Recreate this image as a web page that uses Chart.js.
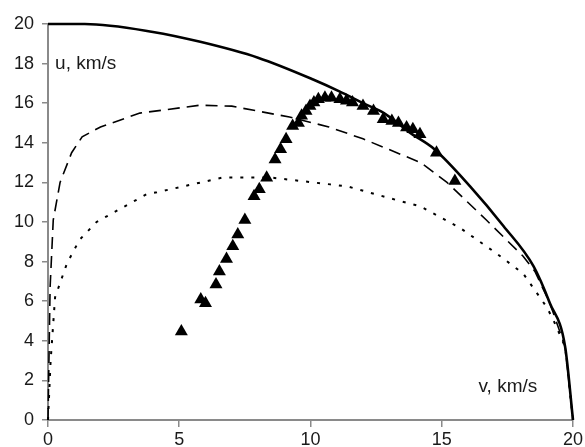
<!DOCTYPE html>
<html>
<head>
<meta charset="utf-8">
<script src="https://cdn.jsdelivr.net/npm/chart.js@4/dist/chart.umd.min.js"></script>
<style>
  html, body { margin: 0; padding: 0; background: #fff; }
  #wrap { width: 585px; height: 447px; position: relative; }
</style>
</head>
<body>
<div id="wrap"><canvas id="c"></canvas></div>
<script>
// u(v) curves, v and u in km/s
const solidV = [0, 1.4, 4, 5.8, 8, 10.1, 11.1, 12, 12.8, 13.8, 14.7, 16.08, 17.35, 18.5, 19.12, 19.7, 20];
const solidU = [20, 20, 19.6, 19.1, 18.3, 17.2, 16.6, 16.0, 15.5, 14.5, 13.7, 11.8, 9.8, 7.76, 5.9, 3.7, 0];

const dashV = [0, 0.08, 0.2, 0.46, 0.9, 1.3, 2, 3.5, 5.8, 7, 9.2, 10.7, 12, 14.2, 15.2, 16.7, 18.1, 18.55, 19.12, 19.7, 20];
const dashU = [0, 6.7, 10.1, 12, 13.5, 14.3, 14.8, 15.5, 15.9, 15.85, 15.3, 14.8, 14.2, 13.0, 12.0, 10.1, 8.27, 7.5, 5.9, 3.7, 0];

const dotV = [0, 0.1, 0.27, 0.72, 1.2, 1.85, 3.75, 4.15, 6.67, 8.45, 10.75, 11.4, 13.3, 14.17, 15.7, 17.1, 18.1, 19.0, 19.25, 19.7, 20];
const dotU = [0, 3, 6.2, 7.9, 9.1, 10.0, 11.4, 11.5, 12.25, 12.25, 11.9, 11.8, 11.1, 10.8, 9.7, 8.4, 7.4, 5.7, 5.06, 3.7, 0];

// measured points (triangles)
const measV = [5.08, 5.82, 6.0, 6.4, 6.53, 6.8, 7.04, 7.23, 7.5, 7.85, 8.05, 8.33, 8.65, 8.86, 9.07, 9.32, 9.54, 9.66, 9.83, 9.98,
  10.13, 10.3, 10.55, 10.8, 11.12, 11.37, 11.6, 12.0, 12.4, 12.77, 13.1, 13.35, 13.66, 13.9, 14.17, 14.8, 15.5];
const measU = [4.47, 6.08, 5.9, 6.84, 7.5, 8.13, 8.77, 9.37, 10.1, 11.3, 11.65, 12.24, 13.16, 13.67, 14.18, 14.85, 15.0, 15.36, 15.6, 15.86,
  16.03, 16.2, 16.28, 16.28, 16.2, 16.12, 16.03, 15.86, 15.6, 15.19, 15.1, 15.0, 14.77, 14.68, 14.43, 13.5, 12.07];

const xTicks = [0, 5, 10, 15, 20];
const yTicks = [0, 2, 4, 6, 8, 10, 12, 14, 16, 18, 20];

const AXIS = "#8a8a8a";
const TEXT = "#1a1a1a";
const FONT = "'Liberation Sans', Arial, sans-serif";

function pts(xs, ys) {
  return xs.map((x, i) => ({ x: x, y: ys[i] }));
}

// axis captions drawn inside the plot, anchored to data coordinates
const captions = {
  id: "captions",
  afterDraw(chart) {
    const { ctx, scales } = chart;
    ctx.save();
    ctx.fillStyle = TEXT;
    ctx.font = "19px " + FONT;
    ctx.textBaseline = "middle";
    ctx.textAlign = "left";
    ctx.fillText("u, km/s", scales.x.getPixelForValue(0.27), scales.y.getPixelForValue(18));
    ctx.fillText("v, km/s", scales.x.getPixelForValue(16.4), scales.y.getPixelForValue(1.7));
    ctx.restore();
  },
};

new Chart(document.getElementById("c"), {
  type: "scatter",
  data: {
    datasets: [
      {
        data: pts(solidV, solidU),
        showLine: true,
        borderColor: "#000",
        borderWidth: 2.6,
        pointRadius: 0,
        cubicInterpolationMode: "monotone",
        clip: false,
      },
      {
        data: pts(dashV, dashU),
        showLine: true,
        borderColor: "#000",
        borderWidth: 1.6,
        borderDash: [12, 7],
        pointRadius: 0,
        tension: 0,
        clip: false,
      },
      {
        data: pts(dotV, dotU),
        showLine: true,
        borderColor: "#000",
        borderWidth: 2,
        borderDash: [3, 8],
        pointRadius: 0,
        tension: 0,
        clip: false,
      },
      {
        data: pts(measV, measU),
        pointStyle: "triangle",
        pointRadius: 7.5,
        pointBackgroundColor: "#000",
        pointBorderColor: "#000",
        pointBorderWidth: 0,
        clip: false,
      },
    ],
  },
  options: {
    responsive: true,
    maintainAspectRatio: false,
    animation: false,
    layout: { padding: { top: 24, right: 12, left: 0, bottom: 0 } },
    plugins: { legend: { display: false }, tooltip: { enabled: false } },
    scales: {
      x: {
        type: "linear",
        min: 0,
        max: 20,
        afterFit: (s) => { s.height = 27; },
        afterBuildTicks: (s) => { s.ticks = xTicks.map((v) => ({ value: v })); },
        grid: { display: true, drawOnChartArea: false, drawTicks: true, tickLength: 7, color: AXIS, lineWidth: 1.5 },
        border: { display: true, color: AXIS, width: 2 },
        ticks: { color: TEXT, font: { family: FONT, size: 18 }, padding: 2, maxRotation: 0 },
      },
      y: {
        type: "linear",
        min: 0,
        max: 20,
        afterFit: (s) => { s.width = 48; },
        afterBuildTicks: (s) => { s.ticks = yTicks.map((v) => ({ value: v })); },
        grid: { display: true, drawOnChartArea: false, drawTicks: true, tickLength: 6, color: AXIS, lineWidth: 1.5 },
        border: { display: true, color: AXIS, width: 2 },
        ticks: { color: TEXT, font: { family: FONT, size: 18 }, padding: 8 },
      },
    },
  },
  plugins: [captions],
});
</script>
</body>
</html>
